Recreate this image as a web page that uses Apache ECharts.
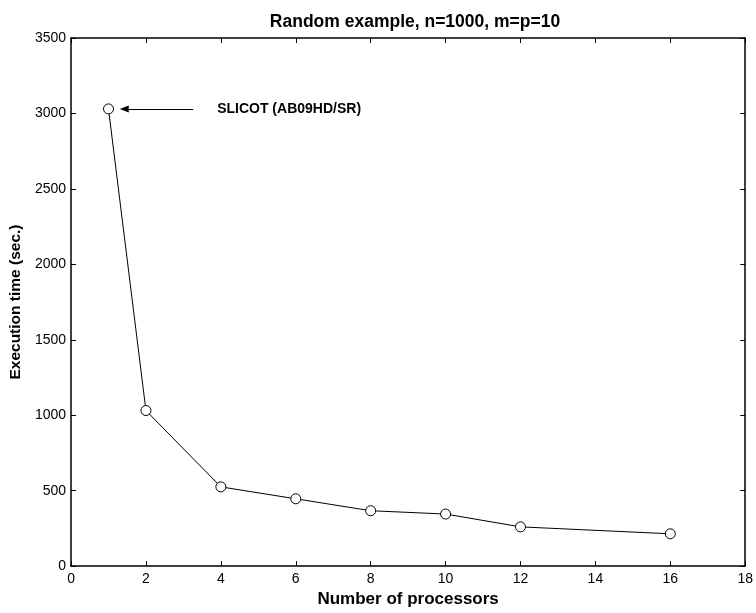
<!DOCTYPE html>
<html>
<head>
<meta charset="utf-8">
<script src="https://cdn.jsdelivr.net/npm/echarts@6/dist/echarts.min.js"></script>
<style>html,body{margin:0;padding:0;background:#fff}#c{width:756px;height:613px}</style>
</head>
<body>
<div id="c"></div>
<script>
const processors = [1, 2, 4, 6, 8, 10, 12, 16];
const execTime = [3030, 1031, 525, 446, 367, 345, 260, 214];
const xTicks = [0, 2, 4, 6, 8, 10, 12, 14, 16, 18];
const yTicks = [0, 500, 1000, 1500, 2000, 2500, 3000, 3500];
const annotationText = 'SLICOT (AB09HD/SR)';
const arrowFrom = [3.26, 3030];
const arrowTo = [1.42, 3030];

const FONT = '"Liberation Sans", Arial, Helvetica, sans-serif';
const chart = echarts.init(document.getElementById('c'), null, {renderer: 'canvas'});
const axisLineStyle = {color: '#000', width: 1.5};
const baseX = {
  type: 'value', min: xTicks[0], max: xTicks[xTicks.length - 1], interval: 2,
  axisLine: {show: true, onZero: false, lineStyle: axisLineStyle},
  axisTick: {show: true, inside: true, length: 5, lineStyle: {color: '#000', width: 1}},
  splitLine: {show: false}
};
const baseY = {
  type: 'value', min: yTicks[0], max: yTicks[yTicks.length - 1], interval: 500,
  axisLine: {show: true, onZero: false, lineStyle: axisLineStyle},
  axisTick: {show: true, inside: true, length: 5, lineStyle: {color: '#000', width: 1}},
  splitLine: {show: false}
};
chart.setOption({
  animation: false,
  backgroundColor: '#fff',
  title: {
    text: 'Random example, n=1000, m=p=10',
    left: 410, top: 8, textAlign: 'center',
    textStyle: {fontFamily: FONT, fontSize: 17.5, fontWeight: 'bold', color: '#000'}
  },
  grid: {left: 70, right: 7, top: 38, bottom: 41, containLabel: false},
  xAxis: [
    Object.assign({}, baseX, {
      position: 'bottom',
      name: 'Number of processors', nameLocation: 'middle', nameGap: 23,
      nameTextStyle: {fontFamily: FONT, fontSize: 17, fontWeight: 'bold', color: '#000'},
      axisLabel: {fontFamily: FONT, fontSize: 14, color: '#000', margin: 6,
                  formatter: v => String(v)}
    }),
    Object.assign({}, baseX, {position: 'top', axisLabel: {show: false}})
  ],
  yAxis: [
    Object.assign({}, baseY, {
      position: 'left',
      name: 'Execution time (sec.)', nameLocation: 'middle', nameGap: 45, nameRotate: 90,
      nameTextStyle: {fontFamily: FONT, fontSize: 15.5, fontWeight: 'bold', color: '#000'},
      axisLabel: {fontFamily: FONT, fontSize: 14, color: '#000', margin: 5,
                  formatter: v => String(v)}
    }),
    Object.assign({}, baseY, {position: 'right', axisLabel: {show: false}})
  ],
  series: [{
    type: 'line',
    data: processors.map((p, i) => [p, execTime[i]]),
    symbol: 'circle', symbolSize: 10, showAllSymbol: true,
    itemStyle: {color: '#fff', borderColor: '#000', borderWidth: 1},
    lineStyle: {color: '#000', width: 1},
    markLine: {
      silent: true,
      symbol: ['none', 'triangle'], symbolSize: [7, 9],
      lineStyle: {color: '#000', width: 1, type: 'solid'},
      label: {
        show: true, position: 'start', distance: 24, formatter: annotationText,
        fontFamily: FONT, fontSize: 14, fontWeight: 'bold', color: '#000'
      },
      data: [[{coord: arrowFrom}, {coord: arrowTo}]]
    }
  }]
});
</script>
</body>
</html>
